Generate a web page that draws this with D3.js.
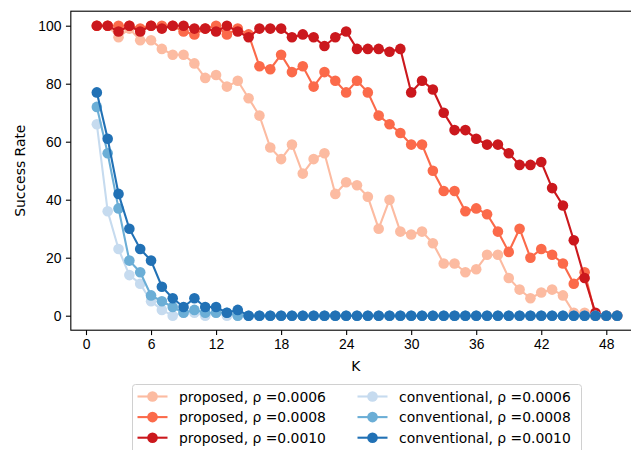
<!DOCTYPE html>
<html>
<head>
<meta charset="utf-8">
<script src="https://cdn.jsdelivr.net/npm/d3@7"></script>
<style>
  body { margin: 0; background: #fff; }
  svg { display: block; font-family: "DejaVu Sans", sans-serif; }
  .axis text { font-size: 13.9px; fill: #000; }
  .axis path, .axis line { stroke: #000; stroke-width: 1.1px; }
</style>
</head>
<body>
<svg width="631" height="450"></svg>
<script>
var kValues = d3.range(1, 50)

var proposed06 = [100, 100, 96, 99, 95, 95, 92, 90, 90, 87, 82, 83, 79, 81, 75, 69, 58, 54, 59, 49,
  54, 56, 42, 46, 45, 41, 30, 40, 29, 28, 29, 25, 18, 18, 15, 16, 21, 21, 13, 9,
  6, 8, 9, 7, 1, 1, 0, 0, 0]
var proposed08 = [100, 100, 100, 100, 99, 100, 100, 100, 98, 97, 99, 100, 97, 99, 97, 86, 85, 90, 84, 86,
  79, 84, 81, 77, 81, 77, 69, 66, 63, 59, 59, 50, 43, 43, 36, 37, 35, 29, 22, 30,
  20, 23, 21, 18, 11, 15, 0, 0, 0]
var proposed10 = [100, 100, 98, 100, 98, 100, 99, 100, 100, 99, 99, 98, 100, 98, 96, 99, 99, 99, 96, 97,
  96, 93, 96, 98, 92, 92, 92, 91, 92, 77, 81, 78, 70, 64, 64, 61, 59, 59, 56, 52,
  52, 53, 44, 38, 26, 13, 1, 0, 0]
var conventional06 = [66, 36, 23, 14, 11, 5, 2, 0, 1, 1, 0, 1, 0, 0, 0, 0, 0, 0, 0, 0,
  0, 0, 0, 0, 0, 0, 0, 0, 0, 0, 0, 0, 0, 0, 0, 0, 0, 0, 0, 0,
  0, 0, 0, 0, 0, 0, 0, 0, 0]
var conventional08 = [72, 56, 37, 19, 15, 7, 5, 3, 1, 2, 1, 1, 1, 0, 0, 0, 0, 0, 0, 0,
  0, 0, 0, 0, 0, 0, 0, 0, 0, 0, 0, 0, 0, 0, 0, 0, 0, 0, 0, 0,
  0, 0, 0, 0, 0, 0, 0, 0, 0]
var conventional10 = [77, 61, 42, 30, 23, 19, 10, 6, 3, 6, 3, 3, 1, 2, 0, 0, 0, 0, 0, 0,
  0, 0, 0, 0, 0, 0, 0, 0, 0, 0, 0, 0, 0, 0, 0, 0, 0, 0, 0, 0,
  0, 0, 0, 0, 0, 0, 0, 0, 0]

var seriesNames = ["proposed, ρ =0.0006", "proposed, ρ =0.0008", "proposed, ρ =0.0010",
  "conventional, ρ =0.0006", "conventional, ρ =0.0008", "conventional, ρ =0.0010"]
var seriesColors = ["#fcbba1", "#fb6a4a", "#cb181d", "#c6dbef", "#6baed6", "#2171b5"]
var xTicks = d3.range(0, 49, 6)
var yTicks = [0, 20, 40, 60, 80, 100]

var series = [proposed06, proposed08, proposed10, conventional06, conventional08, conventional10]
  .map((vals, i) => ({ name: seriesNames[i], color: seriesColors[i], values: vals.map((v, j) => [kValues[j], v]) }))

var svg = d3.select("svg")
var x = d3.scaleLinear().domain([0, 48]).range([86, 606.3])
var y = d3.scaleLinear().domain([0, 100]).range([315.7, 25.7])
var x0 = -1.4, x1 = 51.4, y0 = -5, y1 = 105

var plot = svg.append("g")
var lineGen = d3.line().x(d => x(d[0])).y(d => y(d[1]))

series.forEach(s => {
  var g = plot.append("g")
  g.append("path").attr("d", lineGen(s.values))
    .attr("fill", "none").attr("stroke", s.color).attr("stroke-width", 2.1)
  g.selectAll("circle").data(s.values).enter().append("circle")
    .attr("cx", d => x(d[0])).attr("cy", d => y(d[1])).attr("r", 5.3)
    .attr("fill", s.color)
})

// frame
svg.append("rect")
  .attr("x", x(x0)).attr("y", y(y1))
  .attr("width", x(x1) - x(x0)).attr("height", y(y0) - y(y1))
  .attr("fill", "none").attr("stroke", "#000").attr("stroke-width", 1.1)

var xAxis = d3.axisBottom(x).tickValues(xTicks).tickSize(4.9).tickPadding(4.5)
svg.append("g").attr("class", "axis").attr("transform", `translate(0,${y(y0)})`).call(xAxis)
  .call(g => g.select(".domain").remove())

var yAxis = d3.axisLeft(y).tickValues(yTicks).tickSize(4.9).tickPadding(4.5)
svg.append("g").attr("class", "axis").attr("transform", `translate(${x(x0)},0)`).call(yAxis)
  .call(g => g.select(".domain").remove())

svg.append("text").attr("x", (x(x0) + 643) / 2 - 1).attr("y", 371)
  .attr("text-anchor", "middle").style("font-size", "13.9px").text("K")
svg.append("text").attr("transform", `translate(25,${(y(y0) + y(y1)) / 2}) rotate(-90)`)
  .attr("text-anchor", "middle").style("font-size", "13.9px").text("Success Rate")

// legend
var legend = svg.append("g")
legend.append("rect").attr("x", 132.5).attr("y", 384.5).attr("width", 449).attr("height", 70)
  .attr("rx", 3).attr("fill", "#fff").attr("fill-opacity", 0.8).attr("stroke", "#d0d0d0")
series.forEach((s, i) => {
  var col = Math.floor(i / 3), row = i % 3
  var lx = col === 0 ? 137.5 : 357.5
  var ly = 396.5 + row * 20.6
  var item = legend.append("g").attr("transform", `translate(${lx},${ly})`)
  item.append("line").attr("x1", 0).attr("x2", 30).attr("y1", 0).attr("y2", 0)
    .attr("stroke", s.color).attr("stroke-width", 2.1)
  item.append("circle").attr("cx", 15).attr("cy", 0).attr("r", 5.3).attr("fill", s.color)
  item.append("text").attr("x", 41.5).attr("y", 5).style("font-size", "13.9px").text(s.name)
})
</script>
</body>
</html>
